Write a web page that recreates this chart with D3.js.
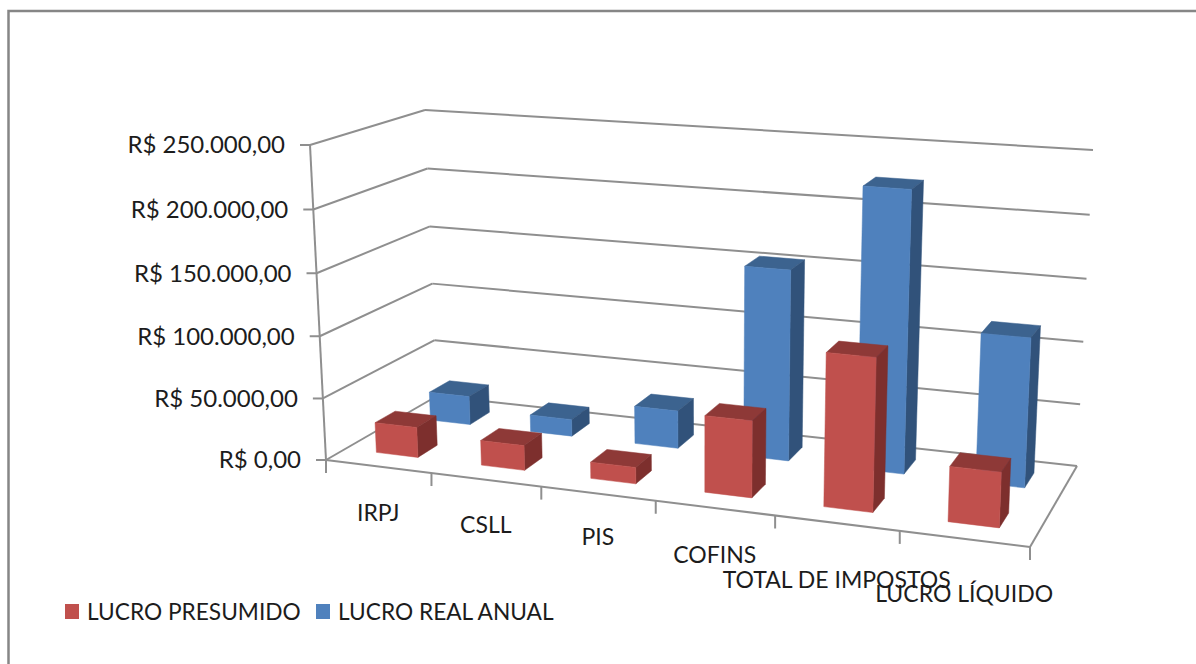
<!DOCTYPE html>
<html>
<head>
<meta charset="utf-8">
<script src="https://cdn.jsdelivr.net/npm/d3@7"></script>
<style>
  html, body { margin: 0; padding: 0; background: #fff; }
  text { font-family: Lato, "Open Sans", sans-serif; fill: #1c1c1c; }
</style>
</head>
<body>
<svg id="chart" width="1196" height="664"></svg>
<script>
// values
var categories = ["IRPJ", "CSLL", "PIS", "COFINS", "TOTAL DE IMPOSTOS", "LUCRO LÍQUIDO"];
var seriesNames = ["LUCRO PRESUMIDO", "LUCRO REAL ANUAL"];
var lucroPresumido = [24500, 20000, 13000, 60000, 118000, 42000];
var lucroReal = [24000, 14000, 31000, 154000, 224000, 117500];
var yTicks = [0, 50000, 100000, 150000, 200000, 250000];
var yTickLabels = ["R$ 0,00", "R$ 50.000,00", "R$ 100.000,00", "R$ 150.000,00", "R$ 200.000,00", "R$ 250.000,00"];

var svgW = 1196;
var svgH = 664;

// corners of the 3d box, u = left/right, v = front/back, w = bottom/top
var box = {
  a0: [326, 460], b0: [1030, 547], c0: [1077, 466], d0: [437, 396],
  a1: [310, 145], b1: [1044, 200], c1: [1093, 150], d1: [425, 110]
};
var perspectiveU = 1.135;
var perspectiveW = 1.03;
var gridColor = "#8f8f8f";

var colors = [
  {front: "#C0504D", top: "#8E3937", side: "#7D2F2D"},
  {front: "#4F81BD", top: "#3C638F", side: "#31527A"}
];

var labelDrop = [46, 45, 43, 47, 57, 55];

var uScale = d3.scaleBand().domain(categories).range([0, 1]).paddingInner(0.6).paddingOuter(0.3);
var vScale = d3.scaleBand().domain(seriesNames).range([0.02, 1.02]).paddingInner(0.63).paddingOuter(0.315);
var wScale = d3.scaleLinear().domain([0, 250000]).range([0, 1]);

function warp(x, r){
  return x / (r + x * (1 - r));
}

function mix(p, q, t){
  return [p[0] + (q[0] - p[0]) * t, p[1] + (q[1] - p[1]) * t];
}

function project(u, v, w){
  var t = warp(u, perspectiveU);
  var bottom = mix(mix(box.a0, box.b0, t), mix(box.d0, box.c0, t), v);
  var top = mix(mix(box.a1, box.b1, t), mix(box.d1, box.c1, t), v);
  return mix(bottom, top, warp(w, perspectiveW));
}

var svg = d3.select("#chart");
var line = d3.line();

function seg(g, p, q, width){
  g.append("path")
    .attr("d", line([p, q]))
    .attr("fill", "none")
    .attr("stroke", gridColor)
    .attr("stroke-width", width || 2);
}

// outer frame, only top and left are inside the picture
svg.append("path")
  .attr("d", line([[8.5, svgH], [8.5, 11], [svgW, 11]]))
  .attr("fill", "none")
  .attr("stroke", "#868686")
  .attr("stroke-width", 2.5);

var grid = svg.append("g");

yTicks.forEach(function(d, i){
  var w = wScale(d);
  var front = project(0, 0, w);
  seg(grid, front, project(0, 1, w));
  seg(grid, project(0, 1, w), project(1, 1, w));
  seg(grid, [front[0] - 10, front[1]], front);
  svg.append("text")
    .attr("x", front[0] - 25)
    .attr("y", front[1])
    .attr("dy", "0.35em")
    .attr("text-anchor", "end")
    .attr("font-size", 24)
    .text(yTickLabels[i]);
});

seg(grid, project(0, 0, 0), project(0, 0, 1));
seg(grid, project(0, 0, 0), project(1, 0, 0));
seg(grid, project(1, 0, 0), project(1, 1, 0));

d3.range(0, categories.length + 1).forEach(function(i){
  var p = project(i / categories.length, 0, 0);
  seg(grid, p, [p[0], p[1] + 13]);
});

// back series first so the front one covers it
var bars = svg.append("g");
[1, 0].forEach(function(s){
  var values = s == 0 ? lucroPresumido : lucroReal;
  var v0 = vScale(seriesNames[s]);
  var v1 = v0 + vScale.bandwidth();
  categories.forEach(function(c, i){
    var u0 = uScale(c);
    var u1 = u0 + uScale.bandwidth();
    var w = wScale(values[i]);
    var faces = [
      {fill: colors[s].top, pts: [[u0, v0, w], [u1, v0, w], [u1, v1, w], [u0, v1, w]]},
      {fill: colors[s].side, pts: [[u1, v0, 0], [u1, v1, 0], [u1, v1, w], [u1, v0, w]]},
      {fill: colors[s].front, pts: [[u0, v0, 0], [u1, v0, 0], [u1, v0, w], [u0, v0, w]]}
    ];
    bars.selectAll(null)
      .data(faces)
      .enter()
      .append("path")
      .attr("d", function(f){
        return line(f.pts.map(function(p){ return project(p[0], p[1], p[2]); })) + "Z";
      })
      .attr("fill", function(f){ return f.fill; })
      .attr("stroke", function(f){ return f.fill; })
      .attr("stroke-width", 0.5);
  });
});

// category labels
categories.forEach(function(c, i){
  var p = project((i + 0.5) / categories.length, 0, 0);
  svg.append("text")
    .attr("x", p[0])
    .attr("y", p[1] + labelDrop[i])
    .attr("dy", "0.35em")
    .attr("text-anchor", "middle")
    .attr("font-size", 23)
    .text(c);
});

// legend
var legendX = [65, 316];
seriesNames.forEach(function(n, i){
  svg.append("rect")
    .attr("x", legendX[i])
    .attr("y", 604)
    .attr("width", 14)
    .attr("height", 15)
    .attr("fill", colors[i].front);
  svg.append("text")
    .attr("x", legendX[i] + 22)
    .attr("y", 612)
    .attr("dy", "0.35em")
    .attr("font-size", 22.7)
    .text(n);
});
</script>
</body>
</html>
